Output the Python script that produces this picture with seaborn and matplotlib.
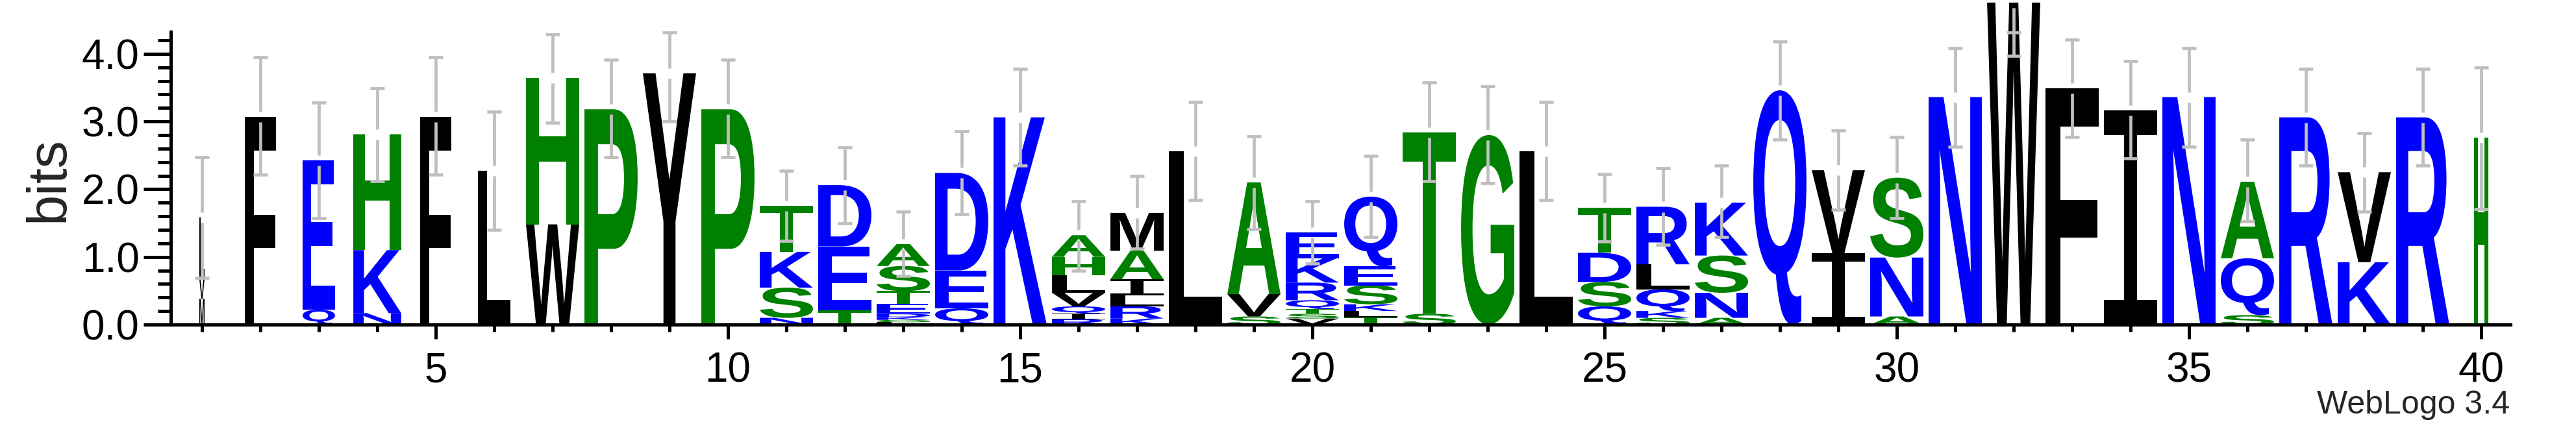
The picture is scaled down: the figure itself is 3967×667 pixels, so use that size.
import numpy as np
import matplotlib
matplotlib.use("Agg")
import matplotlib.pyplot as plt
from matplotlib.textpath import TextPath
from matplotlib.patches import PathPatch
from matplotlib.font_manager import FontProperties
from matplotlib.transforms import Affine2D
import seaborn as sns

# sequence logo data (bits)
positions = list(range(1, 41))
stack_letters = [
    "MVL", "F", "QE", "NKH", "F", "L", "WH", "P", "Y", "P",
    "NSKT", "TED", "LGKDETSA", "QED", "K", "RIQVLHA", "KRLIAM", "L", "SVA", "VSTQRKE",
    "TLKSEQ", "ST", "G", "L", "QSDT", "SKQLR", "ANSK", "Q", "IV", "ANS",
    "N", "W", "F", "I", "N", "SQA", "R", "KV", "R", "H",
]
stack_heights = [
    [0.38, 0.30, 0.90], [3.07], [0.22, 2.21], [0.17, 0.93, 1.71], [3.07],
    [2.27], [1.48, 2.16], [3.18], [3.71], [3.18],
    [0.10, 0.445, 0.53, 0.68], [0.21, 0.945, 0.905],
    [0.035, 0.035, 0.04, 0.05, 0.15, 0.185, 0.37, 0.325], [0.24, 0.56, 1.44], [3.06],
    [0.08, 0.08, 0.11, 0.20, 0.26, 0.27, 0.32], [0.09, 0.18, 0.16, 0.24, 0.42, 0.56],
    [2.56], [0.12, 0.33, 1.65], [0.09, 0.07, 0.07, 0.13, 0.26, 0.36, 0.38],
    [0.11, 0.09, 0.10, 0.28, 0.28, 1.03], [0.16, 2.68], [2.80], [2.56],
    [0.27, 0.36, 0.43, 0.67], [0.10, 0.10, 0.32, 0.37, 0.85], [0.10, 0.37, 0.55, 0.78],
    [3.46], [1.05, 1.23], [0.12, 0.87, 1.18],
    [3.36], [4.755], [3.49], [3.16], [3.36], [0.14, 0.84, 1.13], [3.06], [0.92, 1.33],
    [3.06], [2.76],
]
# fraction of full stack width (gappy columns are narrower)
stack_width = [0.10, 0.59, 0.61, 0.90, 0.59, 0.60] + [1.0] * 33 + [0.26]
err_lo = [0.69, 2.21, 1.57, 2.12, 2.21, 1.40, 2.98, 2.47, 3.00, 2.47,
          1.24, 1.50, 0.72, 1.63, 2.35, 0.80, 1.12, 1.84, 1.41, 0.90,
          1.29, 2.12, 2.09, 1.84, 1.23, 1.18, 1.29, 2.73, 1.70, 1.57,
          2.63, 3.97, 2.77, 2.45, 2.63, 1.52, 2.35, 1.67, 2.35, 1.71]
err_hi = [2.47, 3.95, 3.28, 3.49, 3.95, 3.14, 4.29, 3.91, 4.31, 3.91,
          2.27, 2.62, 1.67, 2.86, 3.78, 1.82, 2.20, 3.29, 2.78, 1.82,
          2.49, 3.58, 3.52, 3.29, 2.22, 2.31, 2.35, 4.18, 2.87, 2.77,
          4.08, 4.31, 4.21, 3.89, 4.08, 2.73, 3.78, 2.83, 3.78, 3.80]

letter_colors = {}
for ch in "DEKRQN":
    letter_colors[ch] = "#0000FF"
for ch in "HPTSAG":
    letter_colors[ch] = "#008000"
for ch in "FLWYMVI":
    letter_colors[ch] = "#000000"

full_width = 0.91
bar_color = "#BFBFBF"

sns.set_style("ticks")
plt.rcParams["font.family"] = ["Liberation Sans", "DejaVu Sans"]

fp_letter = FontProperties(family="Liberation Sans", weight="bold")
fp_i = FontProperties(family="DejaVu Sans Mono")


def draw_letter(ax, ch, xc, y0, w, h, color):
    tp = TextPath((0, 0), ch, size=1, prop=fp_i if ch == "I" else fp_letter)
    bb = tp.get_extents()
    tr = (Affine2D().translate(-bb.x0, -bb.y0)
          .scale(w / bb.width, h / bb.height)
          .translate(xc - w / 2, y0))
    patch = PathPatch(tr.transform_path(tp), facecolor=color, edgecolor="none",
                      lw=0, zorder=2, clip_on=False)
    ax.add_patch(patch)


fig = plt.figure(figsize=(39.67, 6.67), dpi=100)
ax = fig.add_axes([266 / 3967, 167 / 667, 3600 / 3967, 450.6 / 667])

tops = []
for x, letters, heights, frac in zip(positions, stack_letters, stack_heights, stack_width):
    y = 0.0
    for ch, h in zip(letters, heights):
        draw_letter(ax, ch, x, y, full_width * frac, h, letter_colors[ch])
        y += h
    tops.append(y)

gap = 0.077
cap = 0.117
lw_bar = 3.4
for x, top, lo, hi in zip(positions, tops, err_lo, err_hi):
    kw = dict(color=bar_color, lw=lw_bar, solid_capstyle="butt", zorder=3, clip_on=False)
    if lo < top < hi:
        ax.plot([x, x], [lo, top - gap], **kw)
        ax.plot([x, x], [top + gap, hi], **kw)
    else:
        ax.plot([x, x], [lo, max(hi, top - gap)], **kw)
    ax.plot([x - cap, x + cap], [lo, lo], **kw)
    ax.plot([x - cap, x + cap], [hi, hi], **kw)

ax.set_xlim(0.5, 40.5)
ax.set_ylim(0, 4.32)
ax.set_xticks(range(5, 41, 5))
ax.set_xticks(range(1, 41), minor=True)
ax.set_yticks([0, 1, 2, 3, 4])
ax.set_yticklabels(["0.0", "1.0", "2.0", "3.0", "4.0"])
ax.set_yticks(np.round(np.arange(0.2, 4.21, 0.2), 1), minor=True)

ax.tick_params(axis="x", which="major", length=15.8, width=3.6, pad=14, labelsize=46,
               color="k", labelcolor="k", direction="out")
ax.tick_params(axis="x", which="minor", length=7.9, width=3.6, color="k", direction="out")
ax.tick_params(axis="y", which="major", length=30, width=3.6, pad=5, labelsize=46,
               color="k", labelcolor="k", direction="out")
ax.tick_params(axis="y", which="minor", length=14.4, width=3.6, color="k", direction="out")

sns.despine(ax=ax)
for side in ["left", "bottom"]:
    ax.spines[side].set_linewidth(3.6)
    ax.spines[side].set_color("k")
ax.spines["left"].set_position(("outward", 2))

fig.text(75 / 3967, (667 - 276) / 667, "bits", rotation=90, ha="center", va="center",
         fontsize=61)
fig.text(3865 / 3967, (667 - 637) / 667, "WebLogo 3.4", ha="right", va="baseline",
         fontsize=36)

fig.savefig("out.png", dpi=100)
